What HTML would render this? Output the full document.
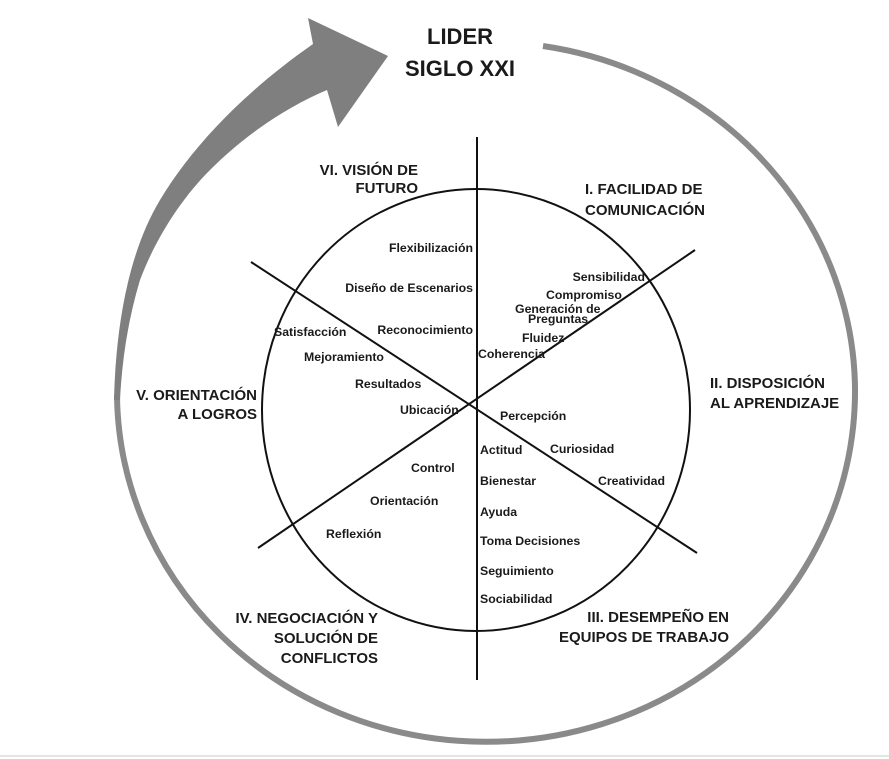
<!DOCTYPE html>
<html><head><meta charset="utf-8"><style>
html,body{margin:0;padding:0;background:#fff;}
svg{display:block;}
text{font-family:"Liberation Sans",sans-serif;font-weight:bold;fill:#1a1a1a;}
.t{font-size:15px;}
.s{font-size:12.3px;}
</style></head><body>
<svg width="889" height="759" viewBox="0 0 889 759" xmlns="http://www.w3.org/2000/svg">
<rect width="889" height="759" fill="#fff"/>
<line x1="0" y1="756" x2="889" y2="756" stroke="#e4e4e4" stroke-width="2"/>
<path d="M543,46 A369,350 0 1 1 117,395" fill="none" stroke="#8a8a8a" stroke-width="6"/>
<path d="M114,400 C116,320 130,250 160,200 C190,150 240,95 313,44 L308,18 L388,56 L338,127 L327,90 C280,110 240,140 210,170 C180,200 155,240 140,280 C128,320 122,360 120,400 Z" fill="#7f7f7f"/>
<text x="460" y="44" font-size="22" text-anchor="middle">LIDER</text>
<text x="460" y="76" font-size="22" text-anchor="middle">SIGLO XXI</text>
<ellipse cx="476" cy="410" rx="214" ry="221" fill="none" stroke="#111" stroke-width="2"/>
<line x1="477" y1="137" x2="477" y2="680" stroke="#111" stroke-width="2"/>
<line x1="695" y1="250" x2="258" y2="548" stroke="#111" stroke-width="2"/>
<line x1="251" y1="262" x2="697" y2="553" stroke="#111" stroke-width="2"/>
<g class="t">
<text x="418" y="175" text-anchor="end">VI. VISIÓN DE</text>
<text x="418" y="193" text-anchor="end">FUTURO</text>
<text x="585" y="194">I. FACILIDAD DE</text>
<text x="585" y="215">COMUNICACIÓN</text>
<text x="710" y="388">II. DISPOSICIÓN</text>
<text x="710" y="408">AL APRENDIZAJE</text>
<text x="729" y="622" text-anchor="end">III. DESEMPEÑO EN</text>
<text x="729" y="642" text-anchor="end">EQUIPOS DE TRABAJO</text>
<text x="378" y="623" text-anchor="end">IV. NEGOCIACIÓN Y</text>
<text x="378" y="643" text-anchor="end">SOLUCIÓN DE</text>
<text x="378" y="663" text-anchor="end">CONFLICTOS</text>
<text x="257" y="400" text-anchor="end">V. ORIENTACIÓN</text>
<text x="257" y="419" text-anchor="end">A LOGROS</text>
</g>
<g class="s">
<text x="473" y="252" text-anchor="end">Flexibilización</text>
<text x="473" y="292" text-anchor="end">Diseño de Escenarios</text>
<text x="473" y="334" text-anchor="end">Reconocimiento</text>
<text x="274" y="336">Satisfacción</text>
<text x="304" y="361">Mejoramiento</text>
<text x="355" y="388">Resultados</text>
<text x="400" y="414">Ubicación</text>
<text x="645" y="281" text-anchor="end">Sensibilidad</text>
<text x="546" y="299">Compromiso</text>
<text x="515" y="313">Generación de</text>
<text x="528" y="323">Preguntas</text>
<text x="522" y="342">Fluidez</text>
<text x="478" y="358">Coherencia</text>
<text x="500" y="420">Percepción</text>
<text x="550" y="453">Curiosidad</text>
<text x="598" y="485">Creatividad</text>
<text x="480" y="454">Actitud</text>
<text x="480" y="485">Bienestar</text>
<text x="480" y="516">Ayuda</text>
<text x="480" y="545">Toma Decisiones</text>
<text x="480" y="575">Seguimiento</text>
<text x="480" y="603">Sociabilidad</text>
<text x="411" y="472">Control</text>
<text x="370" y="505">Orientación</text>
<text x="326" y="538">Reflexión</text>
</g>
</svg>
</body></html>
